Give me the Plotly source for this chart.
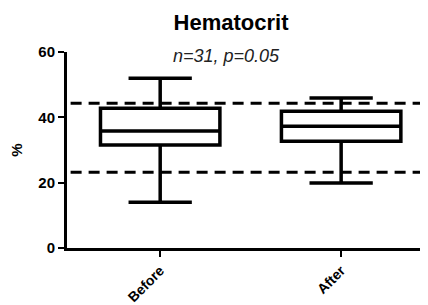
import plotly.graph_objects as go

categories = ["Before", "After"]
q1 = [31.5, 32.7]
median = [35.8, 37.3]
q3 = [42.8, 41.9]
lower_whisker = [14.0, 19.9]
upper_whisker = [52.0, 45.9]
reference_lines = [44.3, 23.2]
y_ticks = [0, 20, 40, 60]

fig = go.Figure()
fig.add_trace(go.Box(
    x=categories, q1=q1, median=median, q3=q3,
    lowerfence=lower_whisker, upperfence=upper_whisker,
    fillcolor="rgba(0,0,0,0)", line=dict(color="black", width=3.5),
    width=0.66, whiskerwidth=0.53, boxpoints=False, hoverinfo="skip",
    showlegend=False,
))

for yv in reference_lines:
    fig.add_shape(type="line", xref="paper", x0=0.01, x1=1, yref="y", y0=yv, y1=yv,
                  line=dict(color="black", width=3, dash="11px,7px"))

fig.add_annotation(text="<i>n=31, p=0.05</i>", xref="paper", yref="paper",
                   x=0.443, y=0.98, yanchor="middle", showarrow=False,
                   font=dict(family="Liberation Sans", size=18, color="#222"))

# page body has an 8px margin, so the figure is offset by 8px
fig.update_layout(
    width=420, height=297,
    margin=dict(l=59, r=0, t=44, b=57, autoexpand=False),
    paper_bgcolor="white", plot_bgcolor="white",
    title=dict(text="<b>Hematocrit</b>", x=0.531, xanchor="center", y=0.953, yanchor="middle",
               font=dict(family="Liberation Sans", size=22, color="black")),
    font=dict(family="Liberation Sans", color="black"),
    xaxis=dict(range=[-0.515, 1.48], showline=True, linecolor="black", linewidth=3,
               ticks="outside", ticklen=6, tickwidth=2, tickcolor="black", automargin=False,
               tickangle=-45, tickfont=dict(size=14, family="Liberation Sans"),
               showgrid=False, zeroline=False,
               tickvals=categories, ticktext=["<b>%s</b>" % c for c in categories]),
    yaxis=dict(range=[0, 60], showline=True, linecolor="black", linewidth=3,
               ticks="outside", ticklen=6, tickwidth=2, tickcolor="black", automargin=False,
               tickvals=y_ticks, ticktext=["<b>%d</b>" % t for t in y_ticks],
               tickfont=dict(size=15, family="Liberation Sans"),
               showgrid=False, zeroline=False,
               title=dict(text="<b>%</b>", font=dict(size=15), standoff=18)),
)

fig.write_html("out.html")
